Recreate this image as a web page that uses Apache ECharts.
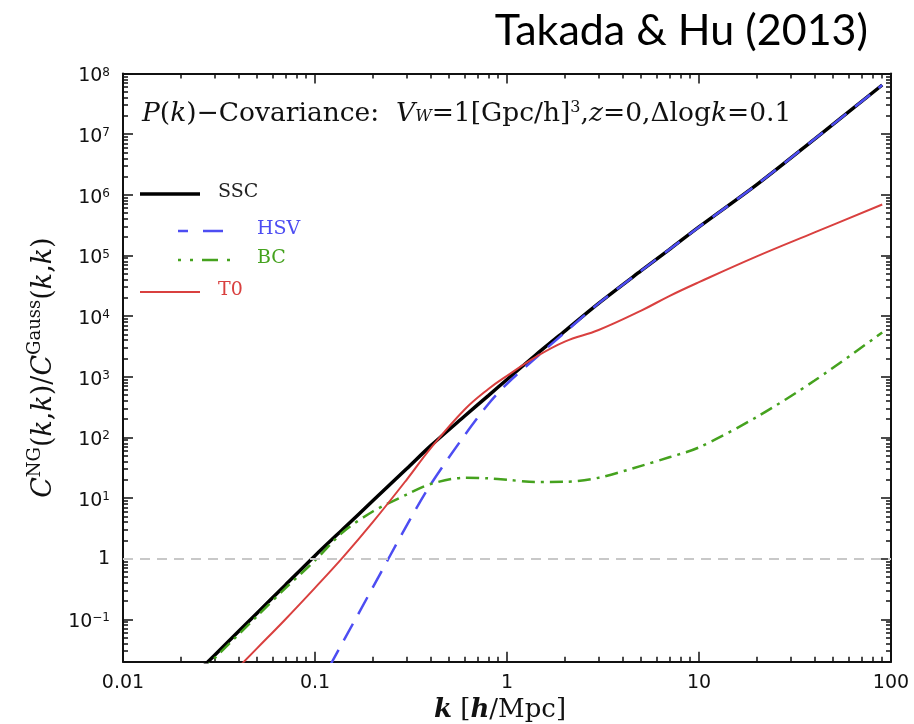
<!DOCTYPE html>
<html>
<head>
<meta charset="utf-8">
<title>Takada & Hu (2013)</title>
<script src="https://cdn.jsdelivr.net/npm/echarts@6/dist/echarts.min.js"></script>
<style>
  html, body { margin: 0; padding: 0; background: #fff; }
  #chart { width: 914px; height: 724px; }
</style>
</head>
<body>
<div id="chart"></div>
<script>
// wavenumbers k [h/Mpc], shared by all curves
var kValues = [0.02, 0.03, 0.05, 0.07, 0.1, 0.14, 0.2, 0.3, 0.4, 0.6, 0.8, 1, 1.4, 2, 3, 5, 7, 10, 20, 40, 90];
// C^NG / C^Gauss
var sscValues = [0.0072, 0.0256, 0.127, 0.366, 1.12, 3.08, 8.98, 30.3, 72.4, 223, 489, 900, 2240, 5660, 16200, 56000, 125000, 295000, 1.47e6, 8.3e6, 6.46e7];
var hsvValues = [null, null, null, null, 0.0061, 0.0427, 0.335, 3.51, 16.7, 107, 355, 766, 2000, 5370, 16200, 56000, 125000, 295000, 1.47e6, 8.3e6, 6.46e7];
var bcValues = [0.0064, 0.0228, 0.1135, 0.324, 0.933, 2.75, 6.0, 11.4, 17.0, 21.6, 21.1, 19.95, 18.4, 18.5, 21.6, 33.9, 47, 68.4, 217, 865, 5370];
var t0Values = [0.0017, 0.0064, 0.0335, 0.0995, 0.33, 1.06, 4.0, 20, 66, 286, 628, 1035, 2090, 3800, 5890, 12300, 21400, 36300, 96600, 240000, 692000];

// axes
var xRange = [0.01, 100];
var yRange = [0.02, 1e8];
var xMajor = [0.01, 0.1, 1, 10, 100];
var xTickLabels = ['0.01', '0.1', '1', '10', '100'];
var yMajor = [0.1, 1, 10, 100, 1e3, 1e4, 1e5, 1e6, 1e7, 1e8];

var lg = function (v) { return v == null ? null : Math.log10(v); };

function minorTicks(range) {
  var out = [];
  var lo = Math.floor(lg(range[0])), hi = Math.ceil(lg(range[1]));
  for (var d = lo; d < hi; d++) {
    for (var m = 2; m <= 9; m++) {
      var v = m * Math.pow(10, d);
      if (v >= range[0] && v <= range[1]) out.push(lg(v));
    }
  }
  return out;
}

var xMajorLog = xMajor.map(lg);
var yMajorLog = yMajor.map(lg);
var xMinorLog = minorTicks(xRange);
var yMinorLog = minorTicks(yRange);

var ink = '#111';
var serif = 'DejaVu Serif';
var sans = 'DejaVu Sans';

function pairs(vals) {
  return kValues.map(function (k, i) { return [lg(k), lg(vals[i])]; });
}

function tickAxis(dim, position, ticks, len, withLine) {
  var r = dim === 'x' ? xRange : yRange;
  return {
    type: 'value',
    position: position,
    min: lg(r[0]),
    max: lg(r[1]),
    axisLine: { show: withLine, onZero: false, lineStyle: { color: ink, width: 2 } },
    axisTick: { show: true, inside: true, length: len, customValues: ticks, lineStyle: { color: ink, width: 1.5 } },
    axisLabel: { show: false },
    splitLine: { show: false }
  };
}

var xBottom = tickAxis('x', 'bottom', xMajorLog, 10, true);
xBottom.axisLabel = {
  show: true,
  customValues: xMajorLog,
  margin: 12,
  fontFamily: sans,
  fontSize: 19,
  color: ink,
  formatter: function (v) {
    var i = xMajorLog.findIndex(function (t) { return Math.abs(t - v) < 1e-6; });
    return i < 0 ? '' : xTickLabels[i];
  }
};
xBottom.name = '{i|k}{n| [}{i|h}{n|/Mpc]}';
xBottom.nameLocation = 'middle';
xBottom.nameGap = 25;
xBottom.nameTextStyle = {
  padding: [0, 14, 0, 0],
  rich: {
    i: { fontFamily: serif, fontStyle: 'italic', fontWeight: 'bold', fontSize: 26, color: ink },
    n: { fontFamily: serif, fontSize: 26, color: ink }
  }
};

var yLeft = tickAxis('y', 'left', yMajorLog, 10, true);
yLeft.axisLabel = {
  show: true,
  customValues: yMajorLog,
  margin: 13,
  fontFamily: sans,
  fontSize: 19,
  color: ink,
  formatter: function (v) {
    var n = Math.round(v);
    if (n === 0) return '1';
    return '{b|10}{s|' + (n < 0 ? '\u2212' + (-n) : n) + '}';
  },
  rich: {
    b: { fontFamily: sans, fontSize: 19, lineHeight: 20, padding: [6, 0, 0, 0], color: ink },
    s: { fontFamily: sans, fontSize: 12, lineHeight: 12, padding: [3, 0, 0, 0], verticalAlign: 'top', color: ink }
  }
};
yLeft.name = '{i|C}{sp|NG}{n|(}{i|k}{n|,}{i|k}{n|)/}{i|C}{sp|Gauss}{n|(}{i|k}{n|,}{i|k}{n|)}';
yLeft.nameLocation = 'middle';
yLeft.nameRotate = 90;
yLeft.nameGap = 66;
yLeft.nameTextStyle = {
  rich: {
    i: { fontFamily: serif, fontStyle: 'italic', fontSize: 27, lineHeight: 28, padding: [8, 0, 0, 0], color: ink },
    n: { fontFamily: serif, fontSize: 27, lineHeight: 28, padding: [8, 0, 0, 0], color: ink },
    sp: { fontFamily: serif, fontSize: 18, lineHeight: 18, padding: [1, 0, 0, 0], verticalAlign: 'top', color: ink }
  }
};

var option = {
  animation: false,
  backgroundColor: '#fff',
  title: {
    text: 'Takada & Hu (2013)',
    right: 41,
    top: 5,
    textStyle: { fontFamily: 'Lato', fontSize: 43, fontWeight: 'normal', color: '#000' }
  },
  grid: { left: 123, right: 23, top: 73.5, bottom: 62.3, containLabel: false, outerBoundsMode: 'none' },
  xAxis: [
    xBottom,
    tickAxis('x', 'bottom', xMinorLog, 5, false),
    tickAxis('x', 'top', xMajorLog, 10, true),
    tickAxis('x', 'top', xMinorLog, 5, false)
  ],
  yAxis: [
    yLeft,
    tickAxis('y', 'left', yMinorLog, 5, false),
    tickAxis('y', 'right', yMajorLog, 10, true),
    tickAxis('y', 'right', yMinorLog, 5, false)
  ],
  series: [
    {
      name: 'SSC', type: 'line', data: pairs(sscValues), smooth: 0.3, symbol: 'none',
      lineStyle: { color: '#000', width: 3.5 }, z: 2,
      markLine: {
        silent: true, symbol: 'none', label: { show: false },
        lineStyle: { color: '#c8c8c8', width: 2, type: [10, 7] },
        data: [{ yAxis: 0 }]
      }
    },
    {
      name: 'HSV', type: 'line', data: pairs(hsvValues), smooth: 0.3, symbol: 'none',
      lineStyle: { color: '#4d4df2', width: 2.5, type: [19, 11] }, z: 3
    },
    {
      name: 'BC', type: 'line', data: pairs(bcValues), smooth: 0.3, symbol: 'none',
      lineStyle: { color: '#45a21e', width: 2.5, type: [13, 6, 3, 6] }, z: 4
    },
    {
      name: 'T0', type: 'line', data: pairs(t0Values), smooth: 0.4, symbol: 'none',
      lineStyle: { color: '#d9403f', width: 2 }, z: 5
    }
  ],
  graphic: [
    {
      type: 'text', left: 142, top: 95, silent: true,
      style: {
        text: '{i|P}{n|(}{i|k}{n|)\u2212Covariance:  }{i|V}{sb|W}{n|=1[Gpc/h]}{sp|3}{n|,}{i|z}{n|=0,\u0394log}{i|k}{n|=0.1}',
        rich: {
          i: { fontFamily: serif, fontStyle: 'italic', fontSize: 26.5, lineHeight: 27, padding: [6, 0, 0, 0], fill: ink },
          n: { fontFamily: serif, fontSize: 26.5, lineHeight: 27, padding: [6, 0, 0, 0], fill: ink },
          sp: { fontFamily: serif, fontSize: 16, lineHeight: 16, padding: [2, 0, 0, 0], verticalAlign: 'top', fill: ink },
          sb: { fontFamily: serif, fontStyle: 'italic', fontSize: 16, lineHeight: 16, verticalAlign: 'bottom', fill: ink }
        }
      }
    },
    // legend, laid out as in the figure
    { type: 'line', silent: true, shape: { x1: 140, y1: 194, x2: 200, y2: 194 }, style: { stroke: '#000', lineWidth: 3.5 } },
    { type: 'text', left: 218, top: 183, silent: true, style: { text: 'SSC', font: '19px "DejaVu Serif"', fill: '#222' } },
    { type: 'line', silent: true, shape: { x1: 178, y1: 231, x2: 223, y2: 231 }, style: { stroke: '#4d4df2', lineWidth: 2.5, lineDash: [10, 15, 20, 100] } },
    { type: 'text', left: 257, top: 220, silent: true, style: { text: 'HSV', font: '19px "DejaVu Serif"', fill: '#4d4df2' } },
    { type: 'line', silent: true, shape: { x1: 178, y1: 260, x2: 231, y2: 260 }, style: { stroke: '#45a21e', lineWidth: 2.5, lineDash: [3, 9, 3, 9, 16, 9, 3, 100] } },
    { type: 'text', left: 257, top: 249, silent: true, style: { text: 'BC', font: '19px "DejaVu Serif"', fill: '#45a21e' } },
    { type: 'line', silent: true, shape: { x1: 140, y1: 292, x2: 200, y2: 292 }, style: { stroke: '#d9403f', lineWidth: 2 } },
    { type: 'text', left: 218, top: 281, silent: true, style: { text: 'T0', font: '19px "DejaVu Serif"', fill: '#d9403f' } }
  ]
};

var chart = echarts.init(document.getElementById('chart'));
chart.setOption(option);
</script>
</body>
</html>
